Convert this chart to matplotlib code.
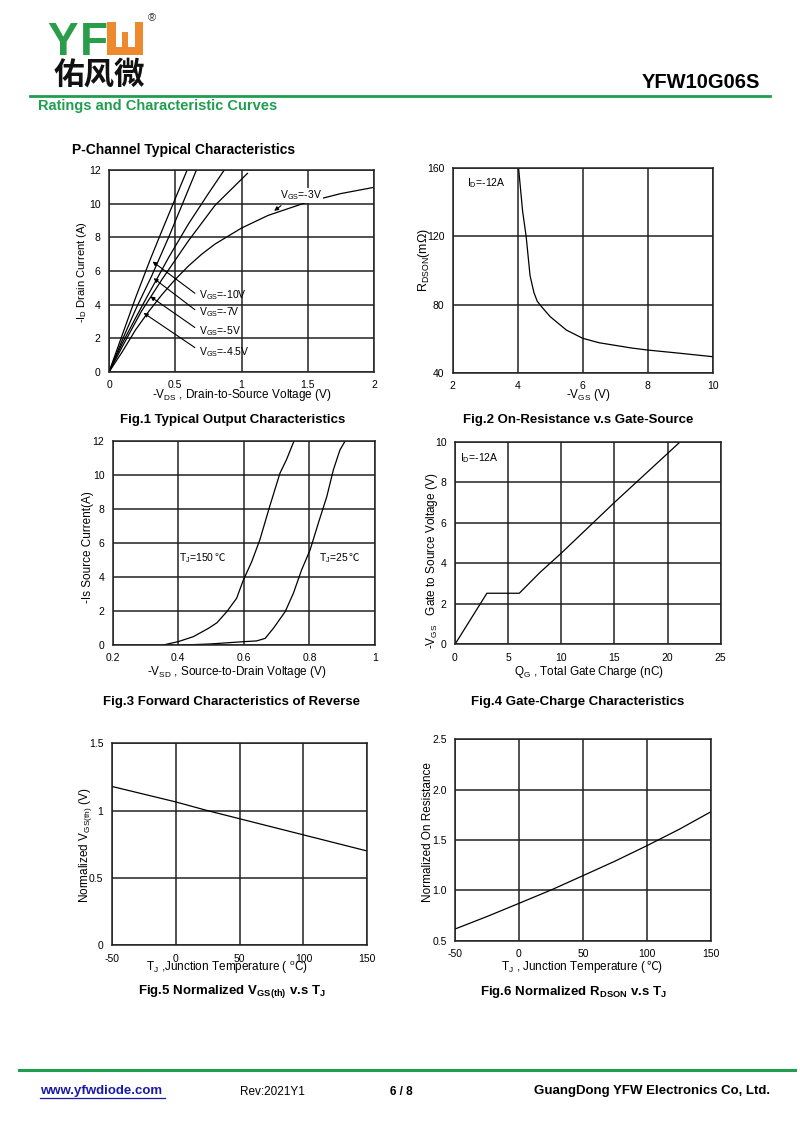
import matplotlib
matplotlib.use("Agg")
import matplotlib.pyplot as plt
from matplotlib.patches import Polygon
from matplotlib.offsetbox import TextArea, HPacker, AnnotationBbox

plt.rcParams['font.family'] = ['Liberation Sans', 'DejaVu Sans']
plt.rcParams['mathtext.fontset'] = 'custom'
plt.rcParams['mathtext.rm'] = 'Liberation Sans'
plt.rcParams['mathtext.it'] = 'Liberation Sans'
plt.rcParams['mathtext.bf'] = 'Liberation Sans:bold'
plt.rcParams['axes.unicode_minus'] = False

# ---------------- data ----------------
# Fig.1 output characteristics: -VDS (V) vs -ID (A)
vds_10 = [0, 0.1, 0.2, 0.31, 0.4, 0.5, 0.59]
id_10 = [0, 2.2, 4.4, 6.66, 8.4, 10.3, 12.0]
vds_7 = [0, 0.1, 0.2, 0.32, 0.45, 0.55, 0.66]
id_7 = [0, 1.9, 3.7, 5.67, 8.0, 9.9, 12.0]
vds_5 = [0, 0.1, 0.2, 0.295, 0.45, 0.6, 0.75, 0.87]
id_5 = [0, 1.7, 3.2, 4.58, 6.8, 8.8, 10.6, 12.0]
vds_45 = [0, 0.1, 0.244, 0.4, 0.6, 0.8, 1.045]
id_45 = [0, 1.5, 3.6, 5.5, 7.8, 9.9, 11.8]
vds_3 = [0, 0.1, 0.2, 0.3, 0.4, 0.5, 0.6, 0.7, 0.8, 1.0, 1.2, 1.5, 1.75, 2.0]
id_3 = [0, 1.2, 2.5, 3.6, 4.6, 5.5, 6.3, 7.0, 7.6, 8.55, 9.3, 10.1, 10.6, 10.97]

# Fig.2 RDSON (mOhm) vs -VGS (V)
vgs2 = [4.03, 4.15, 4.26, 4.38, 4.5, 4.6, 4.7, 5.0, 5.5, 6.0, 6.5, 7.5, 8.0, 9.0, 10.0]
rdson2 = [159.5, 135, 120, 97, 87, 82, 79.5, 72.9, 65, 60.2, 57.6, 54.5, 53.3, 51.4, 49.4]

# Fig.3 source current vs VSD
vsd_150 = [0.354, 0.4, 0.446, 0.492, 0.518, 0.548, 0.578, 0.598, 0.624, 0.649, 0.678, 0.71, 0.73, 0.753]
is_150 = [0, 0.2, 0.49, 0.98, 1.31, 1.96, 2.75, 3.8, 4.9, 6.2, 8.1, 10.1, 10.9, 12.0]
vsd_25 = [0.415, 0.497, 0.603, 0.639, 0.665, 0.69, 0.726, 0.751, 0.776, 0.802, 0.827, 0.853, 0.873, 0.893, 0.909]
is_25 = [0, 0.06, 0.2, 0.24, 0.39, 0.98, 1.96, 3.04, 4.41, 5.59, 7.16, 8.73, 10.3, 11.47, 12.0]

# Fig.4 gate charge
qg = [0, 3.0, 6.05, 8.0, 10.0, 15.0, 21.2]
vgs4 = [0, 2.52, 2.52, 3.55, 4.5, 7.0, 10.0]

# Fig.5 normalized VGS(th) vs TJ
tj5 = [-50, 0, 25, 50, 100, 150]
vth5 = [1.18, 1.065, 1.0, 0.94, 0.82, 0.70]

# Fig.6 normalized RDSON vs TJ
tj6 = [-50, -25, 0, 25, 50, 75, 100, 125, 150]
rn6 = [0.616, 0.74, 0.871, 1.003, 1.146, 1.29, 1.444, 1.605, 1.781]

# ---------------- figure ----------------
W, H = 800, 1131
fig = plt.figure(figsize=(8, 11.31), dpi=100)

def px_axes(l, t, r, b):
    return fig.add_axes([l / W, 1 - b / H, (r - l) / W, (b - t) / H])

def fx(x):
    return x / W

def fy(y):
    return 1 - y / H

GREEN = '#1f9e4f'
TICK_FS = 7.5
LAB_FS = 8.5
CAP_FS = 9.5
LW = 0.9
CJK = ['Noto Sans CJK SC', 'DejaVu Sans']

def style(ax, xlim, ylim, xt, yt, xtl=None, ytl=None):
    ax.set_xlim(*xlim)
    ax.set_ylim(*ylim)
    ax.set_xticks(xt)
    ax.set_yticks(yt)
    if xtl is not None:
        ax.set_xticklabels(xtl)
    if ytl is not None:
        ax.set_yticklabels(ytl)
    ax.tick_params(length=0, labelsize=TICK_FS, pad=6)
    ax.grid(True, color='#222222', lw=1.1)
    for s in ax.spines.values():
        s.set_linewidth(1.1)
        s.set_color('#222222')
    ax.set_axisbelow(True)

def degc_text(ax, xy, parts, coords, align, fs):
    boxes = []
    for s, fam in parts:
        props = dict(fontsize=fs)
        if fam is not None:
            props['family'] = fam
        boxes.append(TextArea(s, textprops=props))
    pk = HPacker(children=boxes, align='baseline', pad=0, sep=0)
    ab = AnnotationBbox(pk, xy, xycoords=coords, box_alignment=align, frameon=False, pad=0)
    ax.add_artist(ab)

# ---- Fig.1 ----
ax1 = px_axes(109, 170, 374, 372)
style(ax1, (0, 2), (0, 12), [0, 0.5, 1, 1.5, 2], [0, 2, 4, 6, 8, 10, 12],
      ['0', '0.5', '1', '1.5', '2'])
for xs, ys in [(vds_10, id_10), (vds_7, id_7), (vds_5, id_5), (vds_45, id_45), (vds_3, id_3)]:
    ax1.plot(xs, ys, color='black', lw=LW)
ax1.text(1.29, 10.5, r'V$_{GS}$=-3V', fontsize=7.5, va='center', ha='left',
         bbox=dict(facecolor='white', edgecolor='none', pad=0.5))
ax1.annotate('', xy=(1.23, 9.47), xytext=(1.315, 9.98),
             arrowprops=dict(arrowstyle='-|>', color='black', lw=0.8, mutation_scale=6))
for lab, ty, ay, tip in [('-10V', 4.58, 4.58, (0.312, 6.66)),
                         ('-7V', 3.56, 3.6, (0.32, 5.67)),
                         ('-5V', 2.45, 2.55, (0.295, 4.58)),
                         ('-4.5V', 1.2, 1.36, (0.244, 3.6))]:
    ax1.text(0.68, ty, r'V$_{GS}$=' + lab, fontsize=7.5, va='center', ha='left')
    ax1.annotate('', xy=tip, xytext=(0.665, ay),
                 arrowprops=dict(arrowstyle='-|>', color='black', lw=0.8, mutation_scale=6))
ax1.text(0.5, -0.114, r'-V$_{DS}$ , Drain-to-Source Voltage (V)', transform=ax1.transAxes,
         ha='center', va='center', fontsize=LAB_FS)
ax1.text(-0.103, 0.497, r'-I$_{D}$ Drain Current (A)', transform=ax1.transAxes,
         ha='center', va='center', rotation=90, fontsize=8)

# ---- Fig.2 ----
ax2 = px_axes(452.7, 168.3, 712.7, 372.7)
style(ax2, (2, 10), (40, 160), [2, 4, 6, 8, 10], [40, 80, 120, 160])
ax2.plot(vgs2, rdson2, color='black', lw=LW)
ax2.text(2.43, 151.2, r'I$_{D}$=-12A', fontsize=7.5, va='center', ha='left')
ax2.text(0.52, -0.109, r'-V$_{GS}$ (V)', transform=ax2.transAxes,
         ha='center', va='center', fontsize=LAB_FS)
ax2.text(-0.112, 0.55, r'R$_{DSON}$(m$\Omega$)', transform=ax2.transAxes,
         ha='center', va='center', rotation=90, fontsize=9)

# ---- Fig.3 ----
ax3 = px_axes(112.7, 441, 375, 645)
style(ax3, (0.2, 1.0), (0, 12), [0.2, 0.4, 0.6, 0.8, 1.0], [0, 2, 4, 6, 8, 10, 12],
      ['0.2', '0.4', '0.6', '0.8', '1'])
ax3.plot(vsd_150, is_150, color='black', lw=LW)
ax3.plot(vsd_25, is_25, color='black', lw=LW)
degc_text(ax3, (0.403, 5.1), [(r'T$_{J}$=150', None), ('℃', CJK)], 'data', (0, 0.5), 7.5)
degc_text(ax3, (0.83, 5.1), [(r'T$_{J}$=25', None), ('℃', CJK)], 'data', (0, 0.5), 7.5)
ax3.text(0.473, -0.131, r'-V$_{SD}$ , Source-to-Drain Voltage (V)', transform=ax3.transAxes,
         ha='center', va='center', fontsize=LAB_FS)
ax3.text(-0.093, 0.48, '-Is Source Current(A)', transform=ax3.transAxes,
         ha='center', va='center', rotation=90, fontsize=LAB_FS)

# ---- Fig.4 ----
ax4 = px_axes(455, 441.7, 720.7, 644.3)
style(ax4, (0, 25), (0, 10), [0, 5, 10, 15, 20, 25], [0, 2, 4, 6, 8, 10])
ax4.plot(qg, vgs4, color='black', lw=LW)
ax4.text(0.47, 9.18, r'I$_{D}$=-12A', fontsize=7.5, va='center', ha='left')
ax4.text(0.505, -0.136, r'Q$_{G}$ , Total Gate Charge (nC)', transform=ax4.transAxes,
         ha='center', va='center', fontsize=LAB_FS)
ax4.text(-0.088, 0.41, r'-V$_{GS}$   Gate to Source Voltage (V)', transform=ax4.transAxes,
         ha='center', va='center', rotation=90, fontsize=LAB_FS)

# ---- Fig.5 ----
ax5 = px_axes(111.7, 743.3, 367.3, 945.3)
style(ax5, (-50, 150), (0, 1.5), [-50, 0, 50, 100, 150], [0, 0.5, 1, 1.5],
      None, ['0', '0.5', '1', '1.5'])
ax5.plot(tj5, vth5, color='black', lw=LW)
ax5.text(0.45, -0.109, r'T$_{J}$ ,Junction Temperature ( $^{o}$C)', transform=ax5.transAxes,
         ha='center', va='center', fontsize=LAB_FS)
ax5.text(-0.104, 0.497, r'Normalized V$_{GS(th)}$ (V)', transform=ax5.transAxes,
         ha='center', va='center', rotation=90, fontsize=LAB_FS)

# ---- Fig.6 ----
ax6 = px_axes(455, 739.3, 711, 940.7)
style(ax6, (-50, 150), (0.5, 2.5), [-50, 0, 50, 100, 150], [0.5, 1.0, 1.5, 2.0, 2.5],
      None, ['0.5', '1.0', '1.5', '2.0', '2.5'])
ax6.plot(tj6, rn6, color='black', lw=LW)
degc_text(ax6, (0.495, -0.132),
          [(r'T$_{J}$ , Junction Temperature (', None), ('℃', CJK), (')', None)],
          'axes fraction', (0.5, 0.5), LAB_FS)
ax6.text(-0.104, 0.54, 'Normalized On Resistance', transform=ax6.transAxes,
         ha='center', va='center', rotation=90, fontsize=LAB_FS)

# ---- captions ----
caps = [(233, 420, 'Fig.1 Typical Output Characteristics'),
        (578, 420, 'Fig.2 On-Resistance v.s Gate-Source'),
        (232, 702, 'Fig.3 Forward Characteristics of Reverse'),
        (578, 702, 'Fig.4 Gate-Charge Characteristics'),
        (232, 992, r'Fig.5 Normalized V$_{\mathbf{GS(th)}}$ v.s T$_{\mathbf{J}}$'),
        (573, 992, r'Fig.6 Normalized R$_{\mathbf{DSON}}$ v.s T$_{\mathbf{J}}$')]
for x, y, t in caps:
    fig.text(fx(x), fy(y), t, ha='center', va='center', fontsize=CAP_FS, fontweight='bold')

fig.text(fx(72), fy(150), 'P-Channel Typical Characteristics', ha='left', va='center',
         fontsize=10, fontweight='bold')

# ---- header ----
fig.text(fx(47), fy(55), 'Y', ha='left', va='baseline', fontsize=33, fontweight='bold', color='#2a9d48')
fig.text(fx(80), fy(55), 'F', ha='left', va='baseline', fontsize=33, fontweight='bold', color='#2a9d48')
orange = '#ee8a2e'
pts = [(106.7, 22), (115.5, 22), (115.5, 47), (121.7, 47), (121.7, 32), (128.3, 32), (128.3, 47),
       (134.5, 47), (134.5, 22), (143.3, 22), (143.3, 55), (106.7, 55)]
fig.patches.append(Polygon([(fx(a), fy(b)) for a, b in pts], closed=True, transform=fig.transFigure,
                           facecolor=orange, edgecolor='none'))
fig.text(fx(152), fy(18), '®', ha='center', va='center', fontsize=8, color='#333333')
fig.text(fx(54), fy(75), '佑风微', ha='left', va='center', fontsize=22, fontweight='bold',
         family=CJK, color='#111111')
fig.add_artist(plt.Line2D([fx(30), fx(770)], [fy(95.5), fy(95.5)], transform=fig.transFigure,
                          color=GREEN, lw=2))
fig.text(fx(38), fy(106), 'Ratings and Characteristic Curves', ha='left', va='center',
         fontsize=10.5, fontweight='bold', color=GREEN)
fig.text(fx(760), fy(82), 'YFW10G06S', ha='right', va='center', fontsize=14.5, fontweight='bold')

# ---- footer ----
fig.add_artist(plt.Line2D([fx(19), fx(795)], [fy(1070), fy(1070)], transform=fig.transFigure,
                          color=GREEN, lw=2.2))
fig.text(fx(40), fy(1091), 'www.yfwdiode.com', ha='left', va='center', fontsize=9.5,
         fontweight='bold', color='#1a1aa8')
fig.add_artist(plt.Line2D([fx(40), fx(165)], [fy(1098), fy(1098)], transform=fig.transFigure,
                          color='#1a1aa8', lw=0.9))
fig.text(fx(240), fy(1092), 'Rev:2021Y1', ha='left', va='center', fontsize=8.5)
fig.text(fx(390), fy(1092), '6 / 8', ha='left', va='center', fontsize=8.5, fontweight='bold')
fig.text(fx(770), fy(1091), 'GuangDong YFW Electronics Co, Ltd.', ha='right', va='center',
         fontsize=9.5, fontweight='bold')

fig.savefig('out.png', dpi=100)
